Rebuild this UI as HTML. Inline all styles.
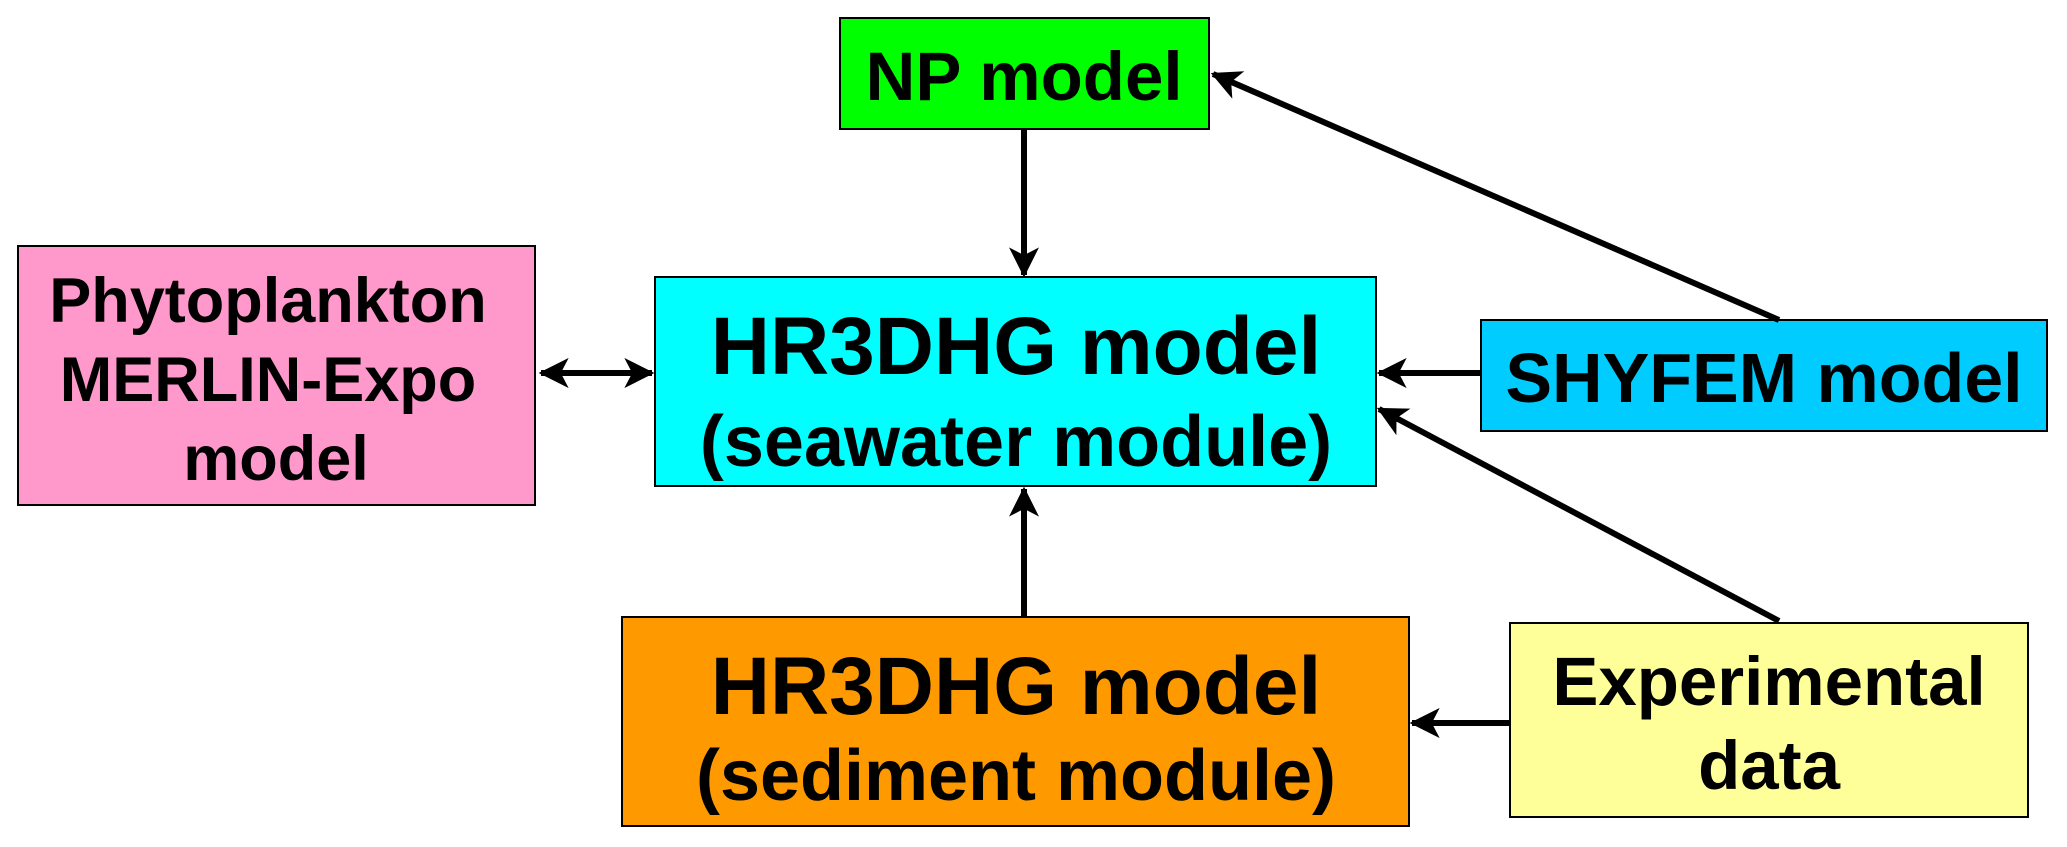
<!DOCTYPE html>
<html><head><style>
html,body{margin:0;padding:0;background:#fff;}
svg{display:block;}
text{font-family:"Liberation Sans",Arial,sans-serif;font-weight:bold;fill:#000;text-anchor:middle;}
</style></head><body>
<svg width="2067" height="847" viewBox="0 0 2067 847" xmlns="http://www.w3.org/2000/svg">
<defs>
<marker id="a" markerWidth="5" markerHeight="5" refX="4.6" refY="2.5" orient="auto" markerUnits="strokeWidth">
<path d="M0,0 L5,2.5 L0,5 L1.3,2.5 Z" fill="#000"/>
</marker>
<marker id="b" markerWidth="5" markerHeight="5" refX="0.4" refY="2.5" orient="auto" markerUnits="strokeWidth">
<path d="M5,0 L0,2.5 L5,5 L3.7,2.5 Z" fill="#000"/>
</marker>
</defs>
<g stroke="#000" stroke-width="2">
<rect x="840" y="18" width="369" height="111" fill="#00ff00"/>
<rect x="18" y="246" width="517" height="259" fill="#ff99cc"/>
<rect x="655" y="277" width="721" height="209" fill="#00ffff"/>
<rect x="1481" y="320" width="566" height="111" fill="#00ccff"/>
<rect x="622" y="617" width="787" height="209" fill="#ff9900"/>
<rect x="1510" y="623" width="518" height="194" fill="#ffff99"/>
</g>
<g stroke="#000" stroke-width="6" fill="none">
<line x1="1024" y1="129" x2="1024" y2="275" marker-end="url(#a)"/>
<line x1="541" y1="373" x2="652" y2="373" marker-start="url(#b)" marker-end="url(#a)"/>
<line x1="1481" y1="373" x2="1379" y2="373" marker-end="url(#a)"/>
<line x1="1779" y1="320" x2="1213" y2="74" marker-end="url(#a)"/>
<line x1="1779" y1="621" x2="1379" y2="409" marker-end="url(#a)"/>
<line x1="1024" y1="617" x2="1024" y2="489" marker-end="url(#a)"/>
<line x1="1510" y1="723" x2="1412" y2="723" marker-end="url(#a)"/>
</g>
<text x="1024" y="100" font-size="69">NP model</text>
<text x="268" y="322" font-size="63">Phytoplankton</text>
<text x="268" y="401" font-size="63">MERLIN-Expo</text>
<text x="276" y="480" font-size="63">model</text>
<text x="1016" y="374" font-size="82">HR3DHG model</text>
<text x="1016" y="466" font-size="72">(seawater module)</text>
<text x="1764" y="402" font-size="70">SHYFEM model</text>
<text x="1016" y="714" font-size="82">HR3DHG model</text>
<text x="1016" y="800" font-size="72">(sediment module)</text>
<text x="1769" y="705" font-size="69">Experimental</text>
<text x="1769" y="789" font-size="69">data</text>
</svg>
</body></html>
